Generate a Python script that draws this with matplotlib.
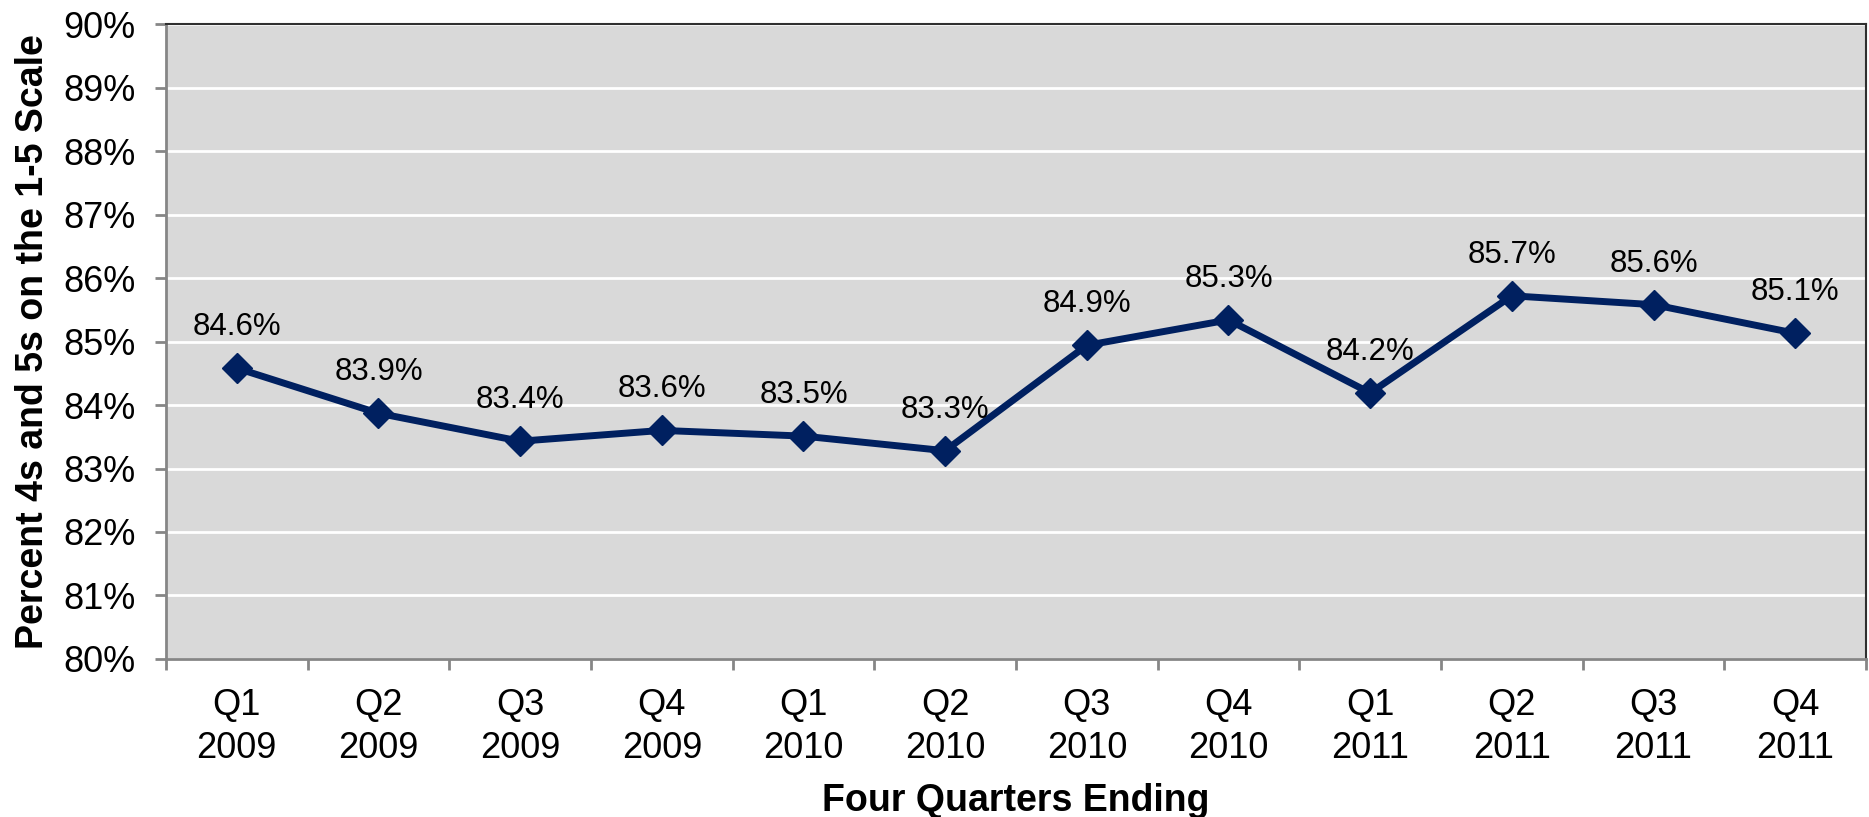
"""Percent of 4s and 5s on the 1-5 scale, four quarters ending."""
import matplotlib

matplotlib.use("Agg")
import matplotlib.pyplot as plt  # noqa: E402
from matplotlib.ticker import FixedLocator, FuncFormatter  # noqa: E402

quarters = ["Q1\n2009", "Q2\n2009", "Q3\n2009", "Q4\n2009",
            "Q1\n2010", "Q2\n2010", "Q3\n2010", "Q4\n2010",
            "Q1\n2011", "Q2\n2011", "Q3\n2011", "Q4\n2011"]
values = [84.58, 83.87, 83.43, 83.60, 83.51, 83.28,
          84.94, 85.34, 84.19, 85.72, 85.58, 85.13]
labels = ["84.6%", "83.9%", "83.4%", "83.6%", "83.5%", "83.3%",
          "84.9%", "85.3%", "84.2%", "85.7%", "85.6%", "85.1%"]

plt.rcParams["font.family"] = ["Liberation Sans", "DejaVu Sans"]

NAVY = "#002060"
AXIS_GREY = "#868686"

fig = plt.figure(figsize=(18.69, 8.17), dpi=100)
ax = fig.add_axes([0.0888, 0.1934, 0.9096, 0.7772])
ax.set_facecolor("#d9d9d9")

x = list(range(len(values)))
ax.plot(x, values, color=NAVY, linewidth=5, marker="D", markersize=15,
        solid_joinstyle="miter", zorder=3)
for xi, v, lab in zip(x, values, labels):
    ax.annotate(lab, (xi, v), xytext=(0, 23.8), textcoords="offset points",
                ha="center", va="baseline", fontsize=22.5, color="black", zorder=4)

ax.set_xlim(-0.5, len(values) - 0.5)
ax.set_ylim(80, 90)
ax.set_yticks(range(80, 91))
ax.yaxis.set_major_formatter(FuncFormatter(lambda v, _: f"{v:.0f}%"))
ax.yaxis.grid(True, color="white", linewidth=2)
ax.set_axisbelow(True)

# ticks on category boundaries, labels at centres
ax.xaxis.set_major_locator(FixedLocator([i - 0.5 for i in range(len(values) + 1)]))
ax.xaxis.set_major_formatter(FuncFormatter(lambda v, _: ""))
ax.set_xticks(x, minor=True)
ax.set_xticklabels(quarters, minor=True, fontsize=26, linespacing=1.3)
ax.tick_params(axis="x", which="major", length=8, width=2, color=AXIS_GREY)
ax.tick_params(axis="x", which="minor", length=0, pad=21)
ax.tick_params(axis="y", length=8, width=2, color=AXIS_GREY, labelsize=26, pad=14)

for side in ("left", "bottom"):
    ax.spines[side].set_color(AXIS_GREY)
    ax.spines[side].set_linewidth(2)
for side in ("top", "right"):
    ax.spines[side].set_color("#303030")
    ax.spines[side].set_linewidth(1.5)

ax.set_xlabel("Four Quarters Ending", fontsize=27, fontweight="bold", va="baseline")
ax.xaxis.set_label_coords(0.5, -0.2394)
ax.set_ylabel("Percent 4s and 5s on the 1-5 Scale", fontsize=27,
              fontweight="bold", va="center")
ax.yaxis.set_label_coords(-0.0782, 0.5)

fig.savefig("out.png", dpi=100)
plt.close(fig)
